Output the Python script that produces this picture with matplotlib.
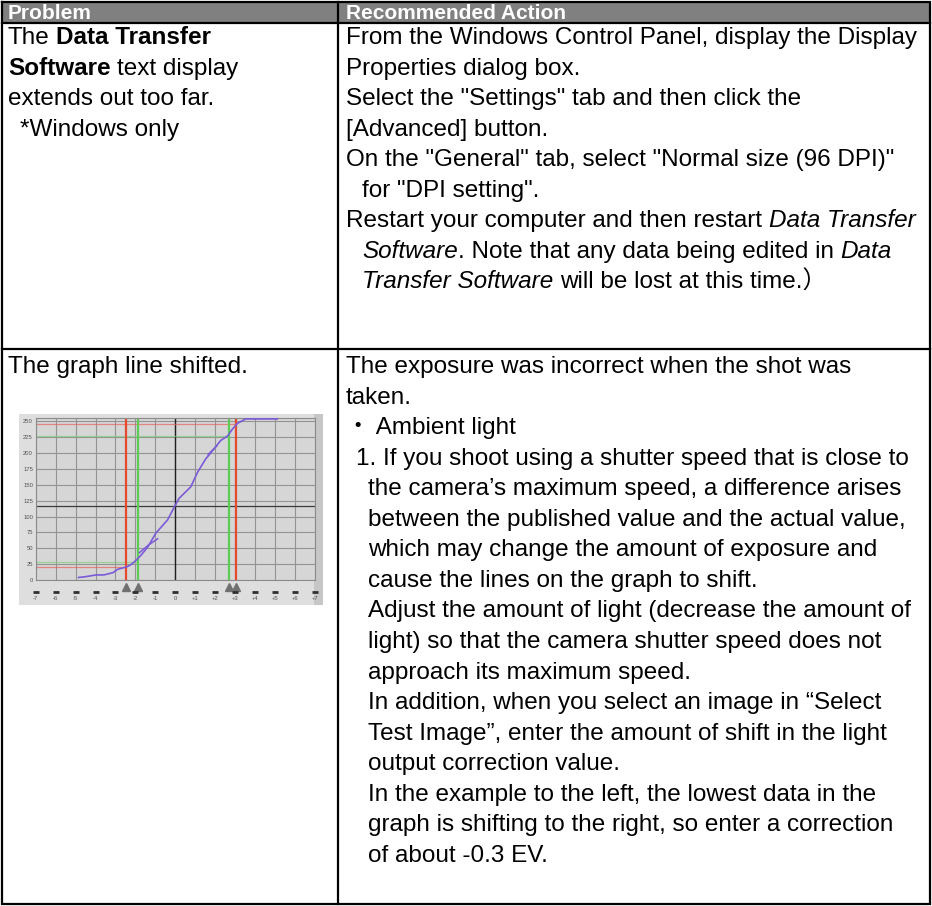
import matplotlib
matplotlib.use('Agg')
import matplotlib.pyplot as plt
from matplotlib.patches import Rectangle
from matplotlib.transforms import blended_transform_factory

plt.rcParams['font.family'] = ['Liberation Sans', 'Noto Sans CJK JP']

# ---- table text: each line is a list of (text, style, space_before) ----
headers = ['Problem', 'Recommended Action']

problem_1 = [
    [('The', 'n', 0), ('Data Transfer', 'b', 1)],
    [('Software', 'b', 0), ('text display', 'n', 1)],
    [('extends out too far.', 'n', 0)],
    [('*Windows only', 'n', 0)],
]
problem_1_indent = [0, 0, 0, 12]

action_1 = [
    [('From the Windows Control Panel, display the Display', 'n', 0)],
    [('Properties dialog box.', 'n', 0)],
    [('Select the "Settings" tab and then click the', 'n', 0)],
    [('[Advanced] button.', 'n', 0)],
    [('On the "General" tab, select "Normal size (96 DPI)"', 'n', 0)],
    [('for "DPI setting".', 'n', 0)],
    [('Restart your computer and then restart', 'n', 0), ('Data Transfer', 'i', 1)],
    [('Software', 'i', 0), ('. Note that any data being edited in', 'n', 0), ('Data', 'i', 1)],
    [('Transfer Software', 'i', 0), ('will be lost at this time.\uff09', 'n', 1)],
]
action_1_indent = [0, 0, 0, 0, 0, 16, 0, 16, 16]

problem_2 = [[('The graph line shifted.', 'n', 0)]]

action_2 = [
    'The exposure was incorrect when the shot was',
    'taken.',
    '\u30fb Ambient light',
    '1. If you shoot using a shutter speed that is close to',
    'the camera\u2019s maximum speed, a difference arises',
    'between the published value and the actual value,',
    'which may change the amount of exposure and',
    'cause the lines on the graph to shift.',
    'Adjust the amount of light (decrease the amount of',
    'light) so that the camera shutter speed does not',
    'approach its maximum speed.',
    'In addition, when you select an image in \u201cSelect',
    'Test Image\u201d, enter the amount of shift in the light',
    'output correction value.',
    'In the example to the left, the lowest data in the',
    'graph is shifting to the right, so enter a correction',
    'of about -0.3 EV.',
]
action_2_indent = [0, 0, 0, 10] + [22] * 14

# ---- small graph data ----
ev_main = [-4.85, -4.55, -3.96, -3.58, -3.13, -2.88, -2.63, -2.41, -2.21, -1.97,
           -1.72, -1.38, -0.97, -0.38, 0.0, 0.2, 0.78, 1.12, 1.53, 1.95,
           2.28, 2.62, 2.87, 3.12, 3.53, 5.12]
val_main = [4, 5, 8, 8, 11.5, 17, 19, 21, 24.5, 31,
            39, 52, 74, 95, 118, 129, 147, 170, 191, 207,
            220, 227, 238, 247, 254, 254]
ev_alt1 = [-1.8, -1.35, -0.88]
val_alt1 = [43, 55, 65]
ev_alt2 = [1.65, 2.1]
val_alt2 = [198, 212]
red_ev = [-2.47, 3.05]
green_ev = [-1.85, 2.7]
red_levels = [21, 246]
green_levels = [28, 227]
ref_level = 117
x_ticks = list(range(-7, 8))
x_ticklabels = ['-7', '-6', '-5', '-4', '-3', '-2', '-1', '0',
                '+1', '+2', '+3', '+4', '+5', '+6', '+7']
y_ticks = list(range(0, 251, 25))

W, H = 932, 906
FS = 17.5
HFS = 15
STYLES = {'n': dict(fontweight='normal', fontstyle='normal'),
          'b': dict(fontweight='bold', fontstyle='normal'),
          'i': dict(fontweight='normal', fontstyle='italic')}

fig = plt.figure(figsize=(W / 100, H / 100), dpi=100)
fig.patch.set_facecolor('white')
tab = fig.add_axes([0, 0, 1, 1])
tab.set_xlim(0, W)
tab.set_ylim(H, 0)
tab.axis('off')
renderer = fig.canvas.get_renderer()


def text_width(s, st):
    t = tab.text(0, 0, s, fontsize=FS, **STYLES[st])
    w = t.get_window_extent(renderer).width
    t.remove()
    return w


space_w = text_width('x x', 'n') - text_width('xx', 'n')


def draw_line(x, y, parts):
    for s, st, gap in parts:
        if gap:
            x += space_w
        t = tab.text(x, y, s, fontsize=FS, va='baseline', ha='left', color='black',
                     **STYLES[st])
        x += t.get_window_extent(renderer).width


def draw_block(x0, y0, lines, indents, pitch=30.55):
    for i, (parts, ind) in enumerate(zip(lines, indents)):
        if isinstance(parts, str):
            parts = [(parts, 'n', 0)]
        draw_line(x0 + ind, y0 + i * pitch, parts)


# header band and grid lines of the table
tab.add_patch(Rectangle((2, 2), W - 4, 20.5, facecolor='#808080', edgecolor='none'))
tab.text(8, 19, headers[0], fontsize=HFS, fontweight='bold', color='white', va='baseline')
tab.text(346, 19, headers[1], fontsize=HFS, fontweight='bold', color='white', va='baseline')
lw = 1.6
tab.plot([2, W - 2, W - 2, 2, 2], [2, 2, H - 2, H - 2, 2], color='black', lw=lw,
         solid_joinstyle='miter')
tab.plot([338, 338], [2, H - 2], color='black', lw=lw)
tab.plot([2, W - 2], [22.5, 22.5], color='black', lw=lw)
tab.plot([2, W - 2], [348.5, 348.5], color='black', lw=lw)

draw_block(8, 44, problem_1, problem_1_indent)
draw_block(346, 44, action_1, action_1_indent)
draw_block(8, 373, problem_2, [0])
draw_block(346, 373, action_2, action_2_indent)

# ---- the little graph screenshot (background drawn in table pixel coords) ----
tab.add_patch(Rectangle((19, 414), 304, 191, facecolor='#dedede', edgecolor='none'))
tab.add_patch(Rectangle((314, 414), 9, 191, facecolor='#c6c6c6', edgecolor='none'))

ax = fig.add_axes([35.7 / W, (H - 580) / H, (314.8 - 35.7) / W, (580 - 418.3) / H])
ax.set_facecolor('#d6d6d6')
ax.set_xlim(-7, 7)
ax.set_ylim(0, 255)
for sp in ax.spines.values():
    sp.set_color('#8a8a8a')
    sp.set_linewidth(0.8)
ax.set_xticks(x_ticks, x_ticklabels)
ax.set_yticks(y_ticks, [str(v) for v in y_ticks])
ax.tick_params(axis='both', length=0, labelsize=4.2, labelcolor='#505050')
ax.tick_params(axis='x', pad=11.5)
ax.tick_params(axis='y', pad=2)
ax.grid(True, color='#939393', linewidth=0.8)
ax.set_axisbelow(True)

ax.axhline(ref_level, color='#3a3a3a', linewidth=0.9)
ax.axvline(0, color='#1e1e1e', linewidth=1.0)
ax.hlines(red_levels, -7, red_ev, color='#e8625a', linewidth=0.9, alpha=0.7)
ax.hlines(green_levels, -7, green_ev, color='#7fd07a', linewidth=0.9, alpha=0.7)
for e in red_ev:
    ax.axvline(e, color='#e64a2e', linewidth=1.6)
for e in green_ev:
    ax.axvline(e, color='#5ccc55', linewidth=1.6)

ax.plot(ev_main, val_main, color='#7a5ad8', linewidth=1.2, clip_on=False, zorder=4)
ax.plot(ev_alt1, val_alt1, color='#7a5ad8', linewidth=1.1, zorder=4)
ax.plot(ev_alt2, val_alt2, color='#7a5ad8', linewidth=1.1, zorder=4)

trans = blended_transform_factory(ax.transData, ax.transAxes)
ax.plot(red_ev + green_ev, [-0.045] * 4, linestyle='none', marker='^', markersize=6,
        color='#707070', transform=trans, clip_on=False)
ax.plot(x_ticks, [-0.075] * len(x_ticks), linestyle='none', marker='_', markersize=4,
        markeredgewidth=2, color='#303030', transform=trans, clip_on=False)

fig.savefig('out.png', dpi=100)
